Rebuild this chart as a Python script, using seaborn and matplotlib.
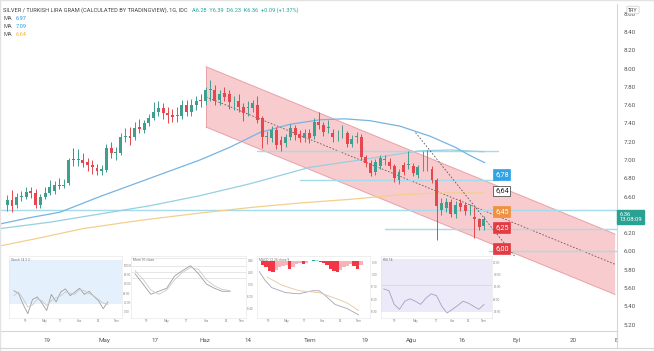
import numpy as np
import pandas as pd
import matplotlib
matplotlib.use("Agg")
import matplotlib.pyplot as plt
import matplotlib.transforms as mtransforms
from matplotlib.patches import Polygon
import seaborn as sns

W, H = 654, 351

# daily candles (bar index 0 = first visible bar)
opens = [6.51, 6.56, 6.51, 6.60, 6.60, 6.66, 6.64, 6.51, 6.60, 6.64,
         6.66, 6.73, 6.72, 6.75, 7.01, 7.00, 7.00, 6.98, 6.95, 6.91,
         6.88, 6.89, 7.13, 7.08, 7.08, 7.25, 7.26, 7.25, 7.36, 7.33,
         7.40, 7.46, 7.52, 7.57, 7.51, 7.49, 7.48, 7.48, 7.60, 7.52,
         7.60, 7.66, 7.65, 7.77, 7.77, 7.66, 7.73, 7.72, 7.64, 7.65,
         7.58, 7.57, 7.57, 7.60, 7.46, 7.25, 7.24, 7.33, 7.22, 7.19,
         7.25, 7.35, 7.28, 7.24, 7.30, 7.26, 7.42, 7.38, 7.35, 7.30,
         7.27, 7.29, 7.29, 7.18, 7.25, 7.25, 7.03, 6.97, 6.87, 6.93,
         7.00, 6.98, 6.93, 6.78, 6.95, 6.95, 6.93, 6.84, 6.93, 6.93,
         6.90, 6.78, 6.45, 6.47, 6.54, 6.41, 6.53, 6.51, 6.46, 6.38,
         6.35, 6.28]
closes = [6.56, 6.50, 6.60, 6.61, 6.65, 6.64, 6.51, 6.60, 6.64, 6.70,
          6.73, 6.72, 6.73, 7.00, 7.00, 7.00, 6.97, 6.95, 6.92, 6.88,
          6.90, 7.13, 7.08, 7.08, 7.25, 7.26, 7.24, 7.35, 7.34, 7.40,
          7.46, 7.52, 7.57, 7.51, 7.49, 7.47, 7.48, 7.60, 7.53, 7.60,
          7.65, 7.64, 7.77, 7.77, 7.65, 7.72, 7.69, 7.63, 7.64, 7.58,
          7.51, 7.57, 7.62, 7.44, 7.25, 7.25, 7.33, 7.16, 7.16, 7.25,
          7.35, 7.27, 7.24, 7.30, 7.24, 7.41, 7.38, 7.31, 7.36, 7.25,
          7.27, 7.29, 7.18, 7.23, 7.25, 7.03, 6.97, 6.86, 6.98, 7.02,
          7.00, 6.93, 6.80, 6.87, 6.87, 6.95, 6.86, 6.92, 6.93, 6.93,
          6.78, 6.50, 6.53, 6.54, 6.41, 6.51, 6.49, 6.44, 6.46, 6.35,
          6.27, 6.36]
highs = [6.62, 6.67, 6.64, 6.66, 6.70, 6.71, 6.68, 6.63, 6.70, 6.78,
         6.77, 6.80, 6.79, 7.02, 7.13, 7.12, 7.08, 7.02, 7.00, 6.96,
         6.95, 7.18, 7.20, 7.14, 7.30, 7.35, 7.36, 7.42, 7.45, 7.44,
         7.50, 7.63, 7.64, 7.62, 7.58, 7.56, 7.58, 7.66, 7.66, 7.67,
         7.70, 7.72, 7.80, 7.87, 7.82, 7.76, 7.80, 7.76, 7.70, 7.72,
         7.62, 7.64, 7.66, 7.70, 7.48, 7.32, 7.37, 7.36, 7.26, 7.28,
         7.39, 7.38, 7.33, 7.34, 7.34, 7.46, 7.52, 7.42, 7.44, 7.34,
         7.33, 7.38, 7.32, 7.27, 7.31, 7.28, 7.06, 7.00, 7.01, 7.06,
         7.05, 7.02, 6.96, 6.90, 6.98, 7.10, 6.97, 6.95, 7.10, 7.11,
         6.93, 6.80, 6.58, 6.59, 6.57, 6.55, 6.57, 6.54, 6.52, 6.49,
         6.37, 6.39]
lows = [6.44, 6.43, 6.48, 6.55, 6.57, 6.59, 6.48, 6.48, 6.57, 6.62,
        6.63, 6.68, 6.69, 6.73, 6.93, 6.93, 6.92, 6.88, 6.85, 6.84,
        6.84, 6.87, 7.02, 7.00, 7.06, 7.20, 7.16, 7.22, 7.29, 7.30,
        7.37, 7.44, 7.48, 7.45, 7.40, 7.41, 7.42, 7.45, 7.48, 7.48,
        7.55, 7.58, 7.60, 7.65, 7.60, 7.60, 7.64, 7.56, 7.55, 7.52,
        7.43, 7.48, 7.52, 7.40, 7.13, 7.18, 7.20, 7.12, 7.10, 7.14,
        7.22, 7.22, 7.20, 7.20, 7.19, 7.23, 7.34, 7.26, 7.30, 7.20,
        7.21, 7.24, 7.14, 7.14, 7.19, 7.00, 6.92, 6.83, 6.84, 6.90,
        6.95, 6.90, 6.76, 6.74, 6.84, 6.90, 6.82, 6.80, 6.88, 6.88,
        6.75, 6.13, 6.40, 6.43, 6.38, 6.37, 6.44, 6.40, 6.40, 6.15,
        6.23, 6.23]

# moving averages (knots)
ma_fast_x = [-1.6, 4.8, 11.2, 19.6, 30.2, 40.8, 47.2, 53.5, 59.9, 66.3, 71.5,
             76.8, 83.2, 89.6, 94.9, 98.0, 101.2]
ma_fast_y = [6.30, 6.37, 6.43, 6.60, 6.80, 7.00, 7.14, 7.30, 7.39, 7.44, 7.45,
             7.43, 7.37, 7.26, 7.14, 7.05, 6.97]
ma_mid_x = [-1.6, 9, 19.6, 30.2, 40.8, 51.4, 64.1, 74.7, 87.4, 93.8, 101]
ma_mid_y = [6.25, 6.32, 6.41, 6.50, 6.61, 6.74, 6.92, 7.00, 7.10, 7.11, 7.09]
ma_slow_x = [-1.6, 7.0, 16.0, 28.1, 40.8, 51.4, 62.0, 72.6, 83.2, 91.6, 101]
ma_slow_y = [6.06, 6.15, 6.25, 6.34, 6.42, 6.48, 6.53, 6.57, 6.62, 6.64, 6.64]

# regression channel
chan_x = [42.1, 128.8]
chan_mid = [7.69, 5.86]
chan_half = 0.33

# drawn trend line and horizontal levels
trend_x = [86.5, 107.5]
trend_y = [7.30, 5.95]
level_vals = [7.10, 6.78, 6.45, 6.25, 6.00]
level_from = [53, 62, -1.6, 80, 102]
level_to = [104, 104, 130, 130, 130]

# price tags
tag_text = ["6,78", "6,64", "6,45", "6,25", "6,00"]
tag_y = [6.84, 6.66, 6.44, 6.26, 6.03]
tag_bg = ["#2ea3e6", "white", "#f0913f", "#e33b41", "#e33b41"]
tag_fg = ["white", "#222222", "white", "white", "white"]

# axis ticks
date_ticks = [8.4, 20.5, 31.3, 41.9, 51.0, 64.1, 75.8, 85.7, 96.3, 108.0, 120.0, 129.0]
date_labels = ["19", "May", "17", "Haz", "14", "Tem", "19", "Ağu", "16", "Eyl", "20", "E"]
price_ticks = [5.2, 5.4, 5.6, 5.8, 6.0, 6.2, 6.6, 6.8, 7.0, 7.2, 7.4, 7.6, 7.8, 8.0, 8.2, 8.4, 8.6]

# small indicator thumbnails
p1_a = [44, 40, 22, 7, 30, 34, 24, 12, 38, 26, 42, 47, 36, 42, 48, 38, 43, 35, 28, 15, 26]
p1_b = [36, 42, 31, 18, 21, 31, 28, 20, 28, 33, 36, 42, 40, 38, 46, 44, 39, 36, 30, 24, 22]
p2_a = [73, 56, 39, 44, 49, 69, 78, 86, 73, 56, 49, 44, 44]
p2_b = [78, 64, 46, 39, 46, 63, 75, 83, 80, 63, 53, 47, 45]
p2_levels = [99, 86, 75, 66]
p3_hist = [-6, -10, -15, -17, -14, -10, -8, -6, -12, -9, -5, -3, -4, -2, 1,
           2, 1.5, -1, -3, -6, -12, -16, -17, -14, -10, -7, -5, -8, -12, -6]
p3_x = [0, 5, 11, 23, 35, 47, 53, 58, 67, 78, 88]
p3_a = [75, 61, 49, 41, 39, 44, 44, 37, 22, 15, 5]
p3_bx = [7, 20, 35, 53, 67, 78, 88]
p3_b = [66, 53, 44, 41, 32, 24, 12]
p4_line = [47, 44, 22, 14, 27, 31, 27, 22, 32, 39, 36, 19, 8, 14, 20, 27, 24, 19, 14, 22]

sns.set_theme(style="white")
plt.rcParams['font.family'] = ['Roboto', 'DejaVu Sans']

fig = plt.figure(figsize=(W / 100, H / 100), dpi=100)
fig.patch.set_facecolor("white")


def rect(x0, y0, x1, y1):
    return [x0 / W, 1 - y1 / H, (x1 - x0) / W, (y1 - y0) / H]


ax = fig.add_axes(rect(0, 4, 617, 331))
ax.set_facecolor("white")

# channel
cx = np.array(chan_x)
cm = np.array(chan_mid)
poly = Polygon(list(zip(cx, cm + chan_half)) + list(zip(cx[::-1], (cm - chan_half)[::-1])),
               closed=True, facecolor="#f8cbce", edgecolor="none", zorder=1)
ax.add_patch(poly)
ax.plot(cx, cm + chan_half, color="#e8a2a7", lw=0.7, zorder=2)
ax.plot(cx, cm - chan_half, color="#e8a2a7", lw=0.7, zorder=2)
ax.plot([cx[0], cx[0]], [cm[0] - chan_half, cm[0] + chan_half], color="#e8a2a7", lw=0.7, zorder=2)
ax.plot(cx, cm, color="#6d5558", lw=0.6, ls=(0, (2, 2)), zorder=2)

# levels
for v, a, b in zip(level_vals, level_from, level_to):
    ax.plot([a, b], [v, v], color="#a6dbe9", lw=1.0, zorder=2)

# moving averages
sns.lineplot(x=ma_slow_x, y=ma_slow_y, ax=ax, color="#f3cf8e", lw=0.9, sort=False, estimator=None, zorder=3)
sns.lineplot(x=ma_mid_x, y=ma_mid_y, ax=ax, color="#94d0e2", lw=0.9, sort=False, estimator=None, zorder=3)
sns.lineplot(x=ma_fast_x, y=ma_fast_y, ax=ax, color="#76b4e2", lw=0.9, sort=False, estimator=None, zorder=3)

# candles
df = pd.DataFrame({"o": opens, "h": highs, "l": lows, "c": closes})
df["i"] = np.arange(len(df))
df["col"] = np.where(df.c >= df.o, "#3f9f8e", "#e4474d")
ax.vlines(df.i, df.l, df.h, colors=df.col, lw=0.7, zorder=4)
body = np.maximum((df.c - df.o).abs(), 0.008)
ax.bar(df.i, body, bottom=np.minimum(df.o, df.c), width=0.62, color=df.col, lw=0, zorder=5)

ax.plot(trend_x, trend_y, color="#5a5a5a", lw=0.6, ls=(0, (2, 2)), zorder=6)

for t, y, bg, fg in zip(tag_text, tag_y, tag_bg, tag_fg):
    ax.text(104.8, y, t, ha="center", va="center", fontsize=5.2, color=fg, zorder=8,
            bbox=dict(boxstyle="square,pad=0.25", fc=bg, ec="#333333" if bg == "white" else bg, lw=0.5))

ax.set_xlim(-1.55, 129.2)
ax.set_ylim(5.131, 8.705)
ax.yaxis.tick_right()
ax.set_yticks(price_ticks)
ax.set_yticklabels([f"{v:.2f}" for v in price_ticks])
ax.set_xticks(date_ticks)
ax.set_xticklabels(date_labels)
ax.tick_params(axis="both", length=0, labelsize=4.5, labelcolor="#555555")
ax.tick_params(axis="y", pad=5)
ax.tick_params(axis="x", pad=5)
for s in ["top", "left"]:
    ax.spines[s].set_visible(False)
for s in ["right", "bottom"]:
    ax.spines[s].set_color("#d6d6d6")
    ax.spines[s].set_linewidth(0.8)

# current price tag
tr = mtransforms.blended_transform_factory(ax.transAxes, ax.transData)
ax.text(1.004, 6.38, "6.36\n13:08:09", transform=tr, ha="left", va="center", fontsize=4.2,
        color="white", linespacing=1.0, zorder=9, clip_on=False,
        bbox=dict(boxstyle="square,pad=0.35", fc="#2aa293", ec="#2aa293"))

# header texts
t1 = fig.text(3 / W, 1 - 10 / H, "SILVER / TURKISH LIRA GRAM (CALCULATED BY TRADINGVIEW), 1G, IDC",
              fontsize=4.1, color="#444444", va="center")
fig.canvas.draw()
bb = t1.get_window_extent()
fig.text(bb.x1 / W + 4 / W, 1 - 10 / H, "A6.28  Y6.39  D6.23  K6.36  +0.09 (+1.37%)",
         fontsize=4.1, color="#26a69a", va="center")
ma_vals = ["6.97", "7.09", "6.64"]
ma_cols = ["#2b8fe0", "#24a5d6", "#efb52e"]
for k, (v, c) in enumerate(zip(ma_vals, ma_cols)):
    fig.text(3 / W, 1 - (19 + 8 * k) / H, "MA", fontsize=4.1, color="#555555", va="center")
    fig.text(16 / W, 1 - (19 + 8 * k) / H, v, fontsize=4.1, color=c, va="center")
fig.text(633 / W, 1 - 10 / H, "TRY", fontsize=3.8, color="#444444", ha="center", va="center",
         bbox=dict(boxstyle="round,pad=0.25", fc="white", ec="#c8c8c8", lw=0.5))


def thumb(r, title):
    a = fig.add_axes(rect(*r))
    a.set_facecolor("white")
    for s in a.spines.values():
        s.set_color("#e4e4e4")
        s.set_linewidth(0.4)
    a.yaxis.tick_right()
    a.tick_params(length=0, labelsize=2.2, labelcolor="#8a8a8a", pad=1)
    a.text(0.02, 0.97, title, transform=a.transAxes, fontsize=2.4, color="#777777", va="top")
    return a


a1 = thumb((9, 256, 122, 318), "Stoch 14 3 3")
a1.axhspan(22, 93, color="#e4f0fb", lw=0)
sns.lineplot(x=np.arange(len(p1_a)), y=p1_a, ax=a1, color="#9d9d9d", lw=0.6)
sns.lineplot(x=np.arange(len(p1_b)), y=p1_b, ax=a1, color="#c9c9c9", lw=0.6)
a1.set_xlim(-1, 23)
a1.set_ylim(0, 100)
a1.set_yticks([10, 25, 40, 55, 70, 85])
a1.set_yticklabels(["0.00", "20.00", "40.00", "60.00", "80.00", "100.00"])
a1.set_xticks([2.5, 6.5, 10, 14, 18, 22])
a1.set_xticklabels(["19", "May", "17", "Haz", "14", "Tem"])

a2 = thumb((131, 256, 246, 318), "Mom 10 close")
for v in p2_levels:
    a2.axhline(v, color="#d5d5d5", lw=0.4)
sns.lineplot(x=np.arange(len(p2_a)), y=p2_a, ax=a2, color="#9d9d9d", lw=0.6)
sns.lineplot(x=np.arange(len(p2_b)), y=p2_b, ax=a2, color="#c9c9c9", lw=0.6)
a2.set_xlim(-0.5, 14)
a2.set_ylim(0, 102)
a2.set_yticks([15, 35, 55, 75, 95])
a2.set_yticklabels(["-0.40", "-0.20", "0.00", "0.20", "0.40"])
a2.set_xticks([1.5, 4, 6.5, 9, 11.5, 13.5])
a2.set_xticklabels(["19", "May", "17", "Haz", "14", "Tem"])

a3 = thumb((257, 256, 370, 318), "MACD 12 26 close 9")
hv = np.array(p3_hist, dtype=float)
prev = np.concatenate([[0.0], hv[:-1]])
hcol = np.where(hv >= 0, np.where(hv >= prev, "#26a69a", "#b2dfdb"),
                np.where(hv <= prev, "#f23645", "#f8b3b8"))
a3.bar(np.arange(len(hv)) * 3 + 3, hv, bottom=91.5, width=3.0, color=hcol, lw=0)
sns.lineplot(x=p3_x, y=p3_a, ax=a3, color="#a4a4b8", lw=0.6)
sns.lineplot(x=p3_bx, y=p3_b, ax=a3, color="#e8c59a", lw=0.6)
a3.set_xlim(-2, 98)
a3.set_ylim(0, 100)
a3.set_yticks([10, 30, 50, 70, 90])
a3.set_yticklabels(["-0.30", "-0.20", "-0.10", "0.00", "0.10"])
a3.set_xticks([8, 24, 40, 56, 72, 88])
a3.set_xticklabels(["19", "May", "17", "Haz", "14", "Tem"])

a4 = thumb((381, 256, 492, 318), "RSI 14")
a4.axhspan(10, 95, color="#ece9f8", lw=0)
a4.axhline(54, color="#cfcbe6", lw=0.4)
sns.lineplot(x=np.arange(len(p4_line)), y=p4_line, ax=a4, color="#a3a0c4", lw=0.6)
a4.set_xlim(-0.5, 20.5)
a4.set_ylim(0, 100)
a4.set_yticks([10, 30, 50, 70, 90])
a4.set_yticklabels(["30.00", "40.00", "50.00", "60.00", "70.00"])
a4.set_xticks([2, 6, 10, 13, 16, 19])
a4.set_xticklabels(["19", "May", "17", "Haz", "14", "Tem"])

# outer frame and axis separators
fig.add_artist(plt.Line2D([617 / W, 617 / W], [1 - 348 / H, 1 - 331 / H], color="#d6d6d6", lw=0.8))
fig.add_artist(plt.Line2D([0, 654 / W], [1 - 348 / H, 1 - 348 / H], color="#d6d6d6", lw=0.8))
fig.add_artist(plt.Rectangle((0, 0), 1, 1, transform=fig.transFigure, fill=False, ec="#e2e2e2", lw=1.0))

fig.savefig("out.png", dpi=100, facecolor="white")
